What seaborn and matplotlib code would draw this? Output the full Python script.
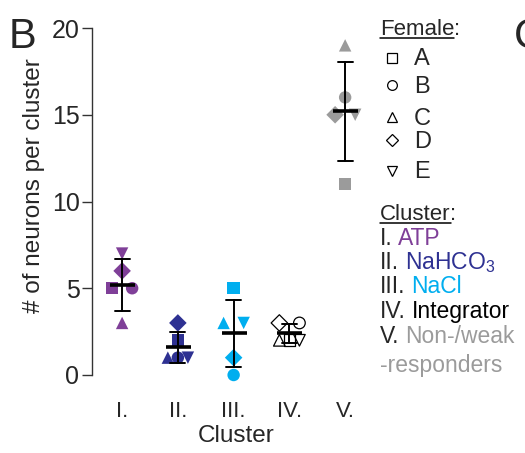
import matplotlib
matplotlib.use("Agg")
import matplotlib.pyplot as plt
from matplotlib.lines import Line2D
import numpy as np
import pandas as pd
import seaborn as sns

# neuron counts per cluster, one value per female (A..E)
clusters = ["I.", "II.", "III.", "IV.", "V."]
females = ["A", "B", "C", "D", "E"]
counts_I = [5, 5, 3, 6, 7]
counts_II = [2, 1, 1, 3, 1]
counts_III = [5, 0, 3, 1, 3]
counts_IV = [2, 3, 2, 3, 2]
counts_V = [11, 16, 19, 15, 15]

cluster_names = ["ATP", "NaHCO$_3$", "NaCl", "Integrator", "Non-/weak"]
cluster_colors = ["#7f3f98", "#2e3192", "#00aeef", "#000000", "#9b9b9b"]
female_markers = {"A": "s", "B": "o", "C": "^", "D": "D", "E": "v"}
spread_order = ["D", "C", "A", "B", "E"]  # left-to-right order for tied values

FONT = ["Liberation Sans", "DejaVu Sans"]


def build_frame():
    rows = []
    all_counts = [counts_I, counts_II, counts_III, counts_IV, counts_V]
    for i, (cl, vals) in enumerate(zip(clusters, all_counts)):
        for f, v in zip(females, vals):
            rows.append({"cluster": cl, "pos": i, "female": f, "count": v})
    df = pd.DataFrame(rows)
    # spread tied points horizontally so they don't overlap
    df["x"] = df["pos"].astype(float)
    for _, grp in df.groupby(["cluster", "count"]):
        if len(grp) > 1:
            idx = sorted(grp.index, key=lambda k: spread_order.index(df.at[k, "female"]))
            offs = np.linspace(-0.18, 0.18, len(idx))
            for k, o in zip(idx, offs):
                df.at[k, "x"] += o
    return df


sns.set_style("ticks")
plt.rcParams["font.family"] = FONT
plt.rcParams["mathtext.fontset"] = "custom"
plt.rcParams["mathtext.rm"] = "Liberation Sans"
plt.rcParams["mathtext.it"] = "Liberation Sans:italic"

df = build_frame()

W, H = 525, 453
fig = plt.figure(figsize=(W / 100, H / 100), dpi=100)
ax = fig.add_axes([92 / W, 1 - 375 / H, 286.6 / W, 347 / H])

palette = dict(zip(clusters, cluster_colors))
filled = df[df["cluster"] != "IV."]
open_ = df[df["cluster"] == "IV."]

sns.scatterplot(data=filled, x="x", y="count", hue="cluster", palette=palette,
                style="female", markers=female_markers, s=80, linewidth=0,
                legend=False, ax=ax, clip_on=False, zorder=1)
sns.scatterplot(data=open_, x="x", y="count", style="female", markers=female_markers,
                s=70, color="black", legend=False, ax=ax, clip_on=False, zorder=1)
coll = ax.collections[-1]
coll.set_facecolor("none")
coll.set_edgecolor("black")
coll.set_linewidth(0.9)

sns.pointplot(data=df, x="pos", y="count", native_scale=True, errorbar="sd",
              capsize=0.27, color="black", linestyle="none", marker="_",
              markersize=18, markeredgewidth=2.6, err_kws={"linewidth": 1.4},
              ax=ax, zorder=3)

ax.set_xlim(-0.54, 4.6)
ax.set_ylim(0, 20)
ax.set_yticks([0, 5, 10, 15, 20])
ax.set_xticks(range(len(clusters)), clusters)
ax.tick_params(axis="y", length=7, width=1, pad=2, labelsize=18, color="#333333")
ax.tick_params(axis="x", length=0, pad=19, labelsize=16)
sns.despine(ax=ax, bottom=True)
ax.spines["left"].set_color("#333333")
ax.spines["left"].set_linewidth(1)

ax.set_ylabel("# of neurons per cluster", fontsize=17.5)
ax.yaxis.set_label_coords(-0.165, 0.545)
ax.set_xlabel("Cluster", fontsize=17.5)
ax.xaxis.set_label_coords(0.502, -0.145)

# panel letters
fig.text(9 / W, 1 - 48 / H, "B", fontsize=30, va="baseline")
fig.text(514 / W, 1 - 48 / H, "C", fontsize=30, va="baseline")

renderer = fig.canvas.get_renderer()


def px(x, y):
    return x / W, 1 - y / H


def heading(x, y, word, size=16):
    t = fig.text(*px(x, y), word, fontsize=size, va="baseline")
    bb = t.get_window_extent(renderer)
    fig.add_artist(Line2D([bb.x0 / W, bb.x1 / W], [1 - (y + 3) / H] * 2,
                          color="black", lw=1.1, transform=fig.transFigure))
    fig.text(bb.x1 / W, 1 - y / H, ":", fontsize=size, va="baseline")


def two_part(x, y, first, second, color, size=16.5):
    t = fig.text(*px(x, y), first, fontsize=size, va="baseline")
    bb = t.get_window_extent(renderer)
    fig.text(bb.x1 / W + 5.5 / W, 1 - y / H, second, fontsize=size,
             va="baseline", color=color)


# Female legend
heading(380, 35, "Female")
female_rows = [(58, 65), (85, 93), (117, 125), (140, 148), (171, 178)]
for f, (my, ty) in zip(females, female_rows):
    fig.add_artist(Line2D([392 / W], [1 - my / H], marker=female_markers[f],
                          markersize=7 if f != "D" else 6, mfc="none", mec="black",
                          mew=0.9, linestyle="none", transform=fig.transFigure))
    fig.text(*px(414, ty), f, fontsize=17, va="baseline")

# Cluster legend
heading(380, 220, "Cluster")
legend_rows = [245, 269, 293, 318, 343]
for cl, name, col, y in zip(clusters, cluster_names, cluster_colors, legend_rows):
    two_part(380, y, cl, name, col)
fig.text(*px(380, 372), "-responders", fontsize=16.5, va="baseline",
         color=cluster_colors[-1])

fig.savefig("out.png", dpi=100)
